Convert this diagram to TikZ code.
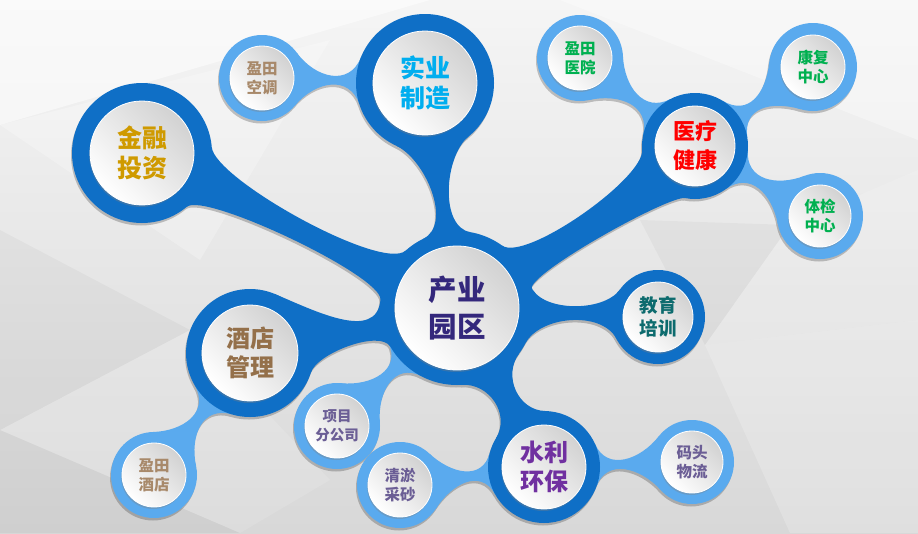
\documentclass[tikz,border=0pt]{standalone}
\usepackage{fontspec}
\newfontfamily\cjk{Noto Sans CJK SC}
\newfontfamily\cjkk{Noto Sans CJK SC Black}
\usetikzlibrary{calc,shadows}
\pgfdeclarelayer{bgl}\pgfdeclarelayer{shd}\pgfdeclarelayer{cnl}
\pgfsetlayers{bgl,shd,cnl,main}
\definecolor{dk}{HTML}{0F6FC6}
\definecolor{lb}{HTML}{5AAAEE}
\definecolor{bgT}{HTML}{F5F5F5}
\definecolor{bgB}{HTML}{D8D8D8}
\definecolor{ig}{HTML}{D2D2D2}
\definecolor{cCy}{HTML}{34287C}
\definecolor{cSy}{HTML}{00AEEF}
\definecolor{cJr}{HTML}{CF9A00}
\definecolor{cJd}{HTML}{94704A}
\definecolor{cYl}{HTML}{FF0000}
\definecolor{cJy}{HTML}{0D6B6E}
\definecolor{cSl}{HTML}{7030A0}
\definecolor{cTan}{HTML}{A8896A}
\definecolor{cGr}{HTML}{00B050}
\definecolor{cPu}{HTML}{6B5E95}
\tikzset{
  ringnode/.style={circle, inner sep=0pt, draw=none},
  innernode/.style={circle, inner sep=0pt, top color=ig, bottom color=white,
    shading angle=-45, draw=white, line width=0.8pt, align=center,
    drop shadow={opacity=0.35, shadow xshift=-0.8pt, shadow yshift=-2pt}},
  fA/.style={font=\cjkk\fontsize{28.5}{37}\selectfont},
  fB/.style={font=\cjkk\fontsize{25}{30.5}\selectfont},
  fC/.style={font=\cjkk\fontsize{24}{29.5}\selectfont},
  fD/.style={font=\cjkk\fontsize{22}{29}\selectfont},
  fE/.style={font=\cjkk\fontsize{18.5}{23}\selectfont},
  fF/.style={font=\cjk\bfseries\fontsize{15.5}{19}\selectfont},
  fG/.style={font=\cjk\bfseries\fontsize{14.5}{18.5}\selectfont},
}
% name, x, y, ring radius, inner radius, ring colour, text style, text
\newcommand\mnode[8]{%
  \expandafter\def\csname rad#1\endcsname{#4}%
  \node[ringnode, fill=#6, minimum size={2*#4pt}] (#1) at (#2,#3) {};
  \node[innernode, minimum size={2*#5pt}, #7] (#1-t) at (#2,#3) {#8};}
% A, B, a1, a2, b1, b2, hL, hR
\newcommand\conn[8]{%
  \pgfmathsetmacro\cnRa{\csname rad#1\endcsname}%
  \pgfmathsetmacro\cnRb{\csname rad#2\endcsname}%
  \pgfmathsetmacro\cnDl{(4*(\cnRa*sin(#3)+\cnRb*sin(#5))-8*(#7))/(3*(cos(#3)+cos(#5)))}%
  \pgfmathsetmacro\cnDr{(4*(\cnRa*sin(#4)+\cnRb*sin(#6))-8*(#8))/(3*(cos(#4)+cos(#6)))}%
  \path ($(#1)!\cnRa pt!#3:(#2)$) coordinate (p1)
        ($(#1)!\cnRa pt!-#4:(#2)$) coordinate (p2)
        ($(#2)!\cnRb pt!-#5:(#1)$) coordinate (q1)
        ($(#2)!\cnRb pt!#6:(#1)$) coordinate (q2);
  \fill (p1) .. controls ($(p1)!\cnDl pt!90:(#1)$) and ($(q1)!\cnDl pt!-90:(#2)$) .. (q1)
    -- (q2) .. controls ($(q2)!\cnDr pt!90:(#2)$) and ($(p2)!\cnDr pt!-90:(#1)$) .. (p2) -- cycle;}
\newcommand\lightconns{%
  \conn{sy}{ytkt}{20}{20}{38}{38}{4.5}{4.5}
  \conn{yl}{yyy}{25}{25}{40}{40}{6}{6}
  \conn{yl}{kf}{25}{25}{40}{40}{6}{6}
  \conn{yl}{tj}{25}{25}{40}{40}{6}{6}
  \conn{cy}{xm}{18}{18}{40}{40}{6}{6}
  \conn{sl}{qy}{22}{22}{40}{40}{5.5}{5.5}
  \conn{sl}{mt}{22}{22}{40}{40}{5}{5}
  \conn{jd}{yjd}{22}{22}{40}{40}{6}{6}}
\newcommand\darkconns{%
  \conn{jr}{cy}{31}{24}{22}{20}{11}{11}
  \conn{sy}{cy}{31}{33}{18}{18}{8.5}{8.5}
  \conn{yl}{cy}{45}{30}{20}{20}{22}{7}
  \conn{cy}{jy}{20}{25}{33}{30}{7}{7}
  \conn{cy}{sl}{25}{25}{30}{30}{12}{12}
  \conn{jd}{cy}{55}{30}{18}{18}{14}{14}}
\begin{document}
\begin{tikzpicture}[x=1pt,y=-1pt]
\useasboundingbox (0,0) rectangle (918,533);
% nodes
\mnode{cy}{457}{308}{77}{62}{dk}{fA,text=cCy}{产业\\园区}
\mnode{sy}{425}{83}{69}{52}{dk}{fB,text=cSy}{实业\\制造}
\mnode{jr}{142}{153}{70}{52}{dk}{fB,text=cJr}{金融\\投资}
\mnode{jd}{250}{353}{64}{48}{dk}{fC,text=cJd}{酒店\\管理}
\mnode{yl}{695}{146}{53}{40}{dk}{fD,text=cYl}{医疗\\健康}
\mnode{jy}{658}{317}{47}{35}{dk}{fE,text=cJy}{教育\\培训}
\mnode{sl}{544}{467}{56}{42}{dk}{fC,text=cSl}{水利\\环保}
\mnode{ytkt}{262}{78}{43}{32}{lb}{fF,text=cTan}{盈田\\空调}
\mnode{yyy}{580}{58}{43}{32}{lb}{fF,text=cGr}{盈田\\医院}
\mnode{kf}{813}{67}{44}{32}{lb}{fF,text=cGr}{康复\\中心}
\mnode{tj}{820}{216}{43}{31}{lb}{fF,text=cGr}{体检\\中心}
\mnode{xm}{337}{426}{43}{32}{lb}{fG,text=cPu}{项目\\分公司}
\mnode{qy}{400}{485}{43}{32}{lb}{fF,text=cPu}{清淤\\采砂}
\mnode{mt}{692}{462}{42}{31}{lb}{fF,text=cPu}{码头\\物流}
\mnode{yjd}{154}{475}{43}{32}{lb}{fF,text=cTan}{盈田\\酒店}
% background
\begin{pgfonlayer}{bgl}
  \fill[top color=bgT, bottom color=bgB] (0,0) rectangle (918,533);
  \fill[white, opacity=0.5] (0,0) -- (430,0) -- (0,125) -- cycle;
  \fill[white, opacity=0.35] (560,0) -- (918,0) -- (918,140) -- cycle;
  \fill[white, opacity=0.25] (0,125) -- (330,40) -- (200,260) -- cycle;
  \fill[black, opacity=0.03] (0,230) -- (190,330) -- (0,430) -- cycle;
  \fill[black, opacity=0.03] (640,220) -- (790,225) -- (705,345) -- cycle;
  \fill[white, opacity=0.2] (705,345) -- (918,320) -- (918,533) -- (790,533) -- cycle;
  \fill[white, opacity=0.15] (790,225) -- (918,170) -- (918,320) -- (705,345) -- cycle;
  \fill[black, opacity=0.04] (0,430) -- (240,533) -- (0,533) -- cycle;
  \fill[white, opacity=0.12] (190,330) -- (330,480) -- (240,533) -- (0,430) -- cycle;
\end{pgfonlayer}
% shadows of the blue shapes
\begin{pgfonlayer}{shd}
  \begin{scope}[transform canvas={xshift=-1pt,yshift=-2.5pt}]
  \begin{scope}[transparency group, opacity=0.22, fill=black]
    \lightconns
    \darkconns
    \foreach \n in {cy,sy,jr,jd,yl,jy,sl,ytkt,yyy,kf,tj,xm,qy,mt,yjd}
      {\fill (\n.center) circle ({\csname rad\n\endcsname pt});}
  \end{scope}
  \end{scope}
\end{pgfonlayer}
% connectors
\begin{pgfonlayer}{cnl}
  \begin{scope}[fill=lb]\lightconns\end{scope}
  \begin{scope}[fill=dk]\darkconns\end{scope}
\end{pgfonlayer}
\end{tikzpicture}
\end{document}
